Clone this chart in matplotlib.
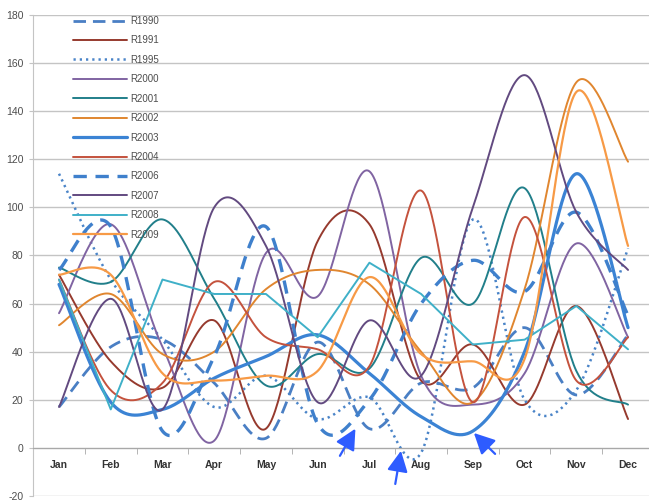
import numpy as np
import matplotlib
matplotlib.use("Agg")
import matplotlib.pyplot as plt

months = ["Jan", "Feb", "Mar", "Apr", "May", "Jun",
          "Jul", "Aug", "Sep", "Oct", "Nov", "Dec"]

r1990 = [17, 42, 45, 27, 4, 44, 8, 27, 25, 50, 22, 47]
r1991 = [72, 36, 25, 53, 8, 86, 93, 28, 43, 18, 59, 12]
r1995 = [114, 70, 45, 17, 30, 12, 21, -2, 95, 20, 24, 83]
r2000 = [56, 93, 42, 3, 81, 63, 115, 30, 18, 31, 85, 46]
r2001 = [75, 69, 95, 62, 26, 39, 33, 79, 60, 108, 32, 18]
r2002 = [51, 64, 39, 40, 66, 74, 68, 40, 19, 66, 152, 119]
r2003 = [68, 19, 16, 29, 38, 47, 31, 13, 7, 40, 114, 50]
r2004 = [70, 24, 27, 69, 46, 41, 34, 107, 19, 96, 28, 46]
r2006 = [74, 92, 7, 38, 92, 10, 20, 60, 78, 65, 98, 55]
r2007 = [17, 62, 16, 100, 84, 19, 53, 30, 100, 155, 98, 74]
r2008 = [70, 16, 70, 64, 64, 46, 77, 64, 43, 45, 59, 41]
r2009 = [72, 72, 31, 28, 30, 32, 71, 39, 36, 37, 148, 84]

# (label, values, colour, width, dash pattern, smoothed)
series = [
    ("R1990", r1990, "#4a7fc4", 2.0, (4.5, 2.5), True),
    ("R1991", r1991, "#963a2e", 1.4, None, True),
    ("R1995", r1995, "#4a84c8", 1.8, (0.9, 1.6), True),
    ("R2000", r2000, "#8064a2", 1.4, None, True),
    ("R2001", r2001, "#217f8a", 1.4, None, True),
    ("R2002", r2002, "#e0862f", 1.4, None, True),
    ("R2003", r2003, "#3b83d4", 2.3, None, True),
    ("R2004", r2004, "#c4523d", 1.4, None, True),
    ("R2006", r2006, "#3f80cc", 2.4, (4.0, 2.6), True),
    ("R2007", r2007, "#624a80", 1.4, None, True),
    ("R2008", r2008, "#3fb0c8", 1.4, None, False),
    ("R2009", r2009, "#f79a46", 1.6, None, True),
]


def smooth_curve(values, steps=40):
    """Bezier spline through every point (Catmull-Rom style control points)."""
    y = np.asarray(values, dtype=float)
    x = np.arange(len(y), dtype=float)
    px = np.concatenate([[x[0]], x, [x[-1]]])
    py = np.concatenate([[y[0]], y, [y[-1]]])
    t = np.linspace(0.0, 1.0, steps)[:, None]
    xs, ys = [], []
    for i in range(1, len(px) - 2):
        p0 = np.array([px[i], py[i]])
        p1 = np.array([px[i + 1], py[i + 1]])
        c1 = p0 + (p1 - np.array([px[i - 1], py[i - 1]])) / 6.0
        c2 = p1 - (np.array([px[i + 2], py[i + 2]]) - p0) / 6.0
        pts = ((1 - t) ** 3) * p0 + 3 * ((1 - t) ** 2) * t * c1 \
            + 3 * (1 - t) * (t ** 2) * c2 + (t ** 3) * p1
        xs.append(pts[:, 0])
        ys.append(pts[:, 1])
    return np.concatenate(xs), np.concatenate(ys)


plt.rcParams["font.family"] = ["Liberation Sans", "DejaVu Sans"]
plt.rcParams["axes.unicode_minus"] = False

W, H = 649, 504
fig = plt.figure(figsize=(W / 100, H / 100), dpi=100)
ax = fig.add_axes([33 / W, 8 / H, 1 - 33 / W, 481 / H])

for label, vals, color, lw, dashes, smoothed in series:
    if smoothed:
        xs, ys = smooth_curve(vals)
    else:
        xs, ys = np.arange(len(vals)), np.asarray(vals, float)
    line, = ax.plot(xs, ys, color=color, lw=lw, label=label,
                    solid_capstyle="round", solid_joinstyle="round")
    if dashes is not None:
        line.set_dashes(dashes)
        line.set_dash_capstyle("butt")

ax.set_xlim(-0.503, 11.405)
ax.set_ylim(-20, 180)
ax.set_yticks(np.arange(-20, 181, 20))
ax.grid(axis="y", color="#c4c4c4", lw=1.0)
ax.set_axisbelow(True)

for side in ("top", "right"):
    ax.spines[side].set_visible(False)
ax.spines["left"].set_color("#c4c4c4")
ax.spines["bottom"].set_position(("data", 0))
ax.spines["bottom"].set_color("#a8a8a8")

ax.set_xticks(np.arange(len(months)))
ax.set_xticklabels(months, fontweight="bold", fontsize=7.5, color="#333333")
ax.set_xticks(np.arange(0.5, len(months) - 0.5, 1.0), minor=True)
ax.tick_params(axis="x", which="major", length=0, pad=9)
ax.tick_params(axis="x", which="minor", length=4, color="#a8a8a8", direction="out")
ax.tick_params(axis="y", length=3, color="#c4c4c4", pad=4,
               labelsize=7.5, labelcolor="#4d4d4d")

leg = ax.legend(loc="upper left", bbox_to_anchor=(73 / W, 1 - 16 / H),
                bbox_transform=fig.transFigure, frameon=False,
                fontsize=7, handlelength=5.6, handletextpad=0.25,
                labelspacing=0.97, borderpad=0, borderaxespad=0)
for txt in leg.get_texts():
    txt.set_color("#4d4d4d")

# blue call-out arrows at the low points
arrow_tails = [(5.43, -3.3), (6.50, -15.0), (8.43, -2.5)]
arrow_heads = [(5.73, 8.0), (6.61, -1.2), (8.02, 6.2)]
for tail, head in zip(arrow_tails, arrow_heads):
    ax.annotate("", xy=head, xytext=tail, annotation_clip=False,
                arrowprops=dict(arrowstyle="-|>,head_length=0.7,head_width=0.35",
                                color="#2e5cff", lw=1.6, mutation_scale=18,
                                shrinkA=0, shrinkB=0))

fig.savefig("out.png", dpi=100)
